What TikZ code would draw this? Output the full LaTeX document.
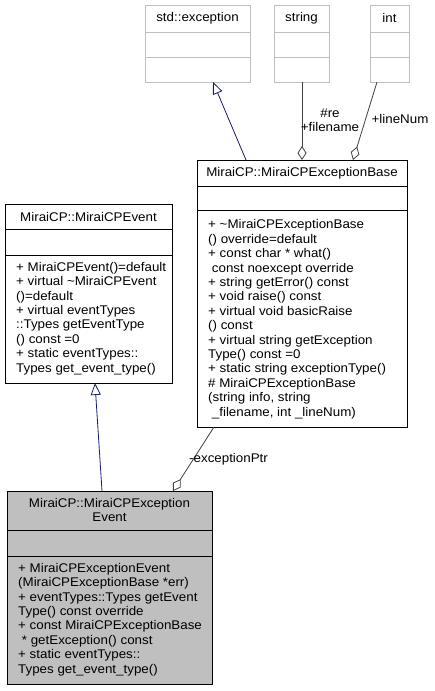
\documentclass[tikz,border=0pt]{standalone}
\usepackage{fontspec}
\setmainfont{Liberation Sans}[FakeStretch=1.06]
\usetikzlibrary{arrows.meta,calc}
\definecolor{extgray}{HTML}{BFBFBF}
\definecolor{inhblue}{HTML}{191970}
\definecolor{aggray}{HTML}{404040}
\tikzset{
  x=1pt,y=-1pt,
  every node/.style={font=\fontsize{12.6}{14.4}\selectfont, inner sep=0pt},
  umlbox/.style={draw=black, line width=0.8pt, fill=white, anchor=north west, minimum width=#1},
  extbox/.style={draw=extgray, line width=0.8pt, fill=white, anchor=north west},
  members/.style={anchor=north west, align=left},
  inherit/.style={draw=inhblue, line width=0.8pt, -{Triangle[open, length=12pt, width=10pt, fill=white]}},
  aggreg/.style={draw=aggray, line width=0.8pt, -{Diamond[open, length=14pt, width=9pt, fill=white]}},
  elabel/.style={font=\fontsize{12.6}{14.4}\selectfont, align=center},
}
\begin{document}
\begin{tikzpicture}
\useasboundingbox (0,0) rectangle (434,691);

% --- external classes
\node[extbox, minimum width=105pt, minimum height=77pt] (stdexc) at (145,5) {};
\draw[extgray, line width=0.8pt] (145,32) -- (250,32) (145,57) -- (250,57);
\node (stdexct) at (197.5,18) {std::exception};

\node[extbox, minimum width=55pt, minimum height=77pt] (str) at (274,5) {};
\draw[extgray, line width=0.8pt] (274,32) -- (329,32) (274,57) -- (329,57);
\node (strt) at (301.5,18) {string};

\node[extbox, minimum width=39pt, minimum height=77pt] (intc) at (370,5) {};
\draw[extgray, line width=0.8pt] (370,32) -- (409,32) (370,57) -- (409,57);
\node (intt) at (389.5,18) {int};

% --- MiraiCPExceptionBase
\node[umlbox=210pt, minimum height=267pt] (base) at (197,160) {};
\draw[line width=0.8pt] (197,186) -- (407,186) (197,210) -- (407,210);
\node (baset) at (302,173) {MiraiCP::MiraiCPExceptionBase};
\node[members] (basem) at (208,219.5) {+ \textasciitilde MiraiCPExceptionBase\\
() override=default\\
+ const char * what()\\
\ const noexcept override\\
+ string getError() const\\
+ void raise() const\\
+ virtual void basicRaise\\
() const\\
+ virtual string getException\\
Type() const =0\\
+ static string exceptionType()\\
\# MiraiCPExceptionBase\\
(string info, string\\
\ \_filename, int \_lineNum)};

% --- MiraiCPEvent
\node[umlbox=167pt, minimum height=179pt] (event) at (5,204) {};
\draw[line width=0.8pt] (5,229) -- (172,229) (5,255) -- (172,255);
\node (eventt) at (88.5,217) {MiraiCP::MiraiCPEvent};
\node[members] (eventm) at (16,262) {+ MiraiCPEvent()=default\\
+ virtual \textasciitilde MiraiCPEvent\\
()=default\\
+ virtual eventTypes\\
::Types getEventType\\
() const =0\\
+ static eventTypes::\\
Types get\_event\_type()};

% --- MiraiCPExceptionEvent
\node[umlbox=205pt, minimum height=193pt, fill=extgray] (exev) at (7,491) {};
\draw[line width=0.8pt] (7,530) -- (212,530) (7,556) -- (212,556);
\node[align=center] (exevt) at (109.5,510) {MiraiCP::MiraiCPException\\Event};
\node[members] (exevm) at (18,563) {+ MiraiCPExceptionEvent\\
(MiraiCPExceptionBase *err)\\
+ eventTypes::Types getEvent\\
Type() const override\\
+ const MiraiCPExceptionBase\\
\ * getException() const\\
+ static eventTypes::\\
Types get\_event\_type()};

% --- connector end points
\coordinate (exevIn) at (102,491);
\coordinate (eventOut) at (95,383);
\coordinate (baseIn) at (246,160);
\coordinate (stdOut) at (213,82);
\coordinate (strOut) at (302,82);
\coordinate (baseStr) at (302,160);
\coordinate (intOut) at (377,82);
\coordinate (baseInt) at (353,160);
\coordinate (baseOut) at (214,427);
\coordinate (exevPtr) at (173,491);

\draw[inherit] (exevIn) -- (eventOut);
\draw[inherit] (baseIn) -- (stdOut);
\draw[aggreg] (strOut) -- (baseStr);
\draw[aggreg] (intOut) -- (baseInt);
\draw[aggreg] (baseOut) -- (exevPtr);

\node[elabel] (lblre) at (330,120) {\#re\\+filename};
\node[elabel] (lblline) at (400,119) {+lineNum};
\node[elabel, anchor=west] (lblptr) at (189,459) {-exceptionPtr};
\end{tikzpicture}
\end{document}
